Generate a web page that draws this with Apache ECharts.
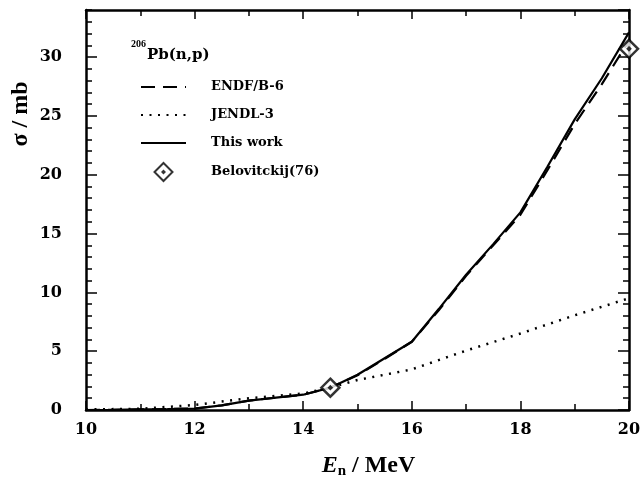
<!DOCTYPE html>
<html><head><meta charset="utf-8">
<script src="https://cdn.jsdelivr.net/npm/echarts@6/dist/echarts.min.js"></script>
<style>html,body{margin:0;padding:0;background:#fff}#c{width:644px;height:486px}</style>
</head><body><div id="c"></div>
<script>
// ---- data ----
const energies = [10, 10.5, 11, 11.5, 12, 12.5, 13, 13.5, 14, 14.5, 15, 15.5, 16, 16.5, 17, 17.5, 18, 18.5, 19, 19.5, 20];
const thisWork = [0, 0.02, 0.05, 0.08, 0.12, 0.4, 0.8, 1.05, 1.3, 1.9, 3.0, 4.4, 5.8, 8.6, 11.5, 14.1, 16.8, 20.7, 24.7, 28.2, 32.1];
const endfB6   = [0, 0.02, 0.05, 0.08, 0.12, 0.4, 0.8, 1.05, 1.3, 1.9, 2.95, 4.35, 5.8, 8.5, 11.4, 14.0, 16.6, 20.4, 24.3, 27.7, 31.4];
const jendlE   = [10, 11, 12, 13, 14, 14.5, 15, 16, 17, 18, 19, 20];
const jendl3   = [0.05, 0.1, 0.43, 1.0, 1.4, 1.9, 2.55, 3.45, 5.05, 6.5, 8.05, 9.5];
const expE     = [14.5, 20];
const expSigma = [1.9, 30.7];
const seriesNames = ['ENDF/B-6', 'JENDL-3', 'This work', 'Belovitckij(76)'];
const xRange = [10, 20];
const yRange = [0, 34];
const xLabelStep = 2;
const yLabelStep = 5;

const pairs = (xs, ys) => xs.map((x, i) => [x, ys[i]]);
const SERIF = '"DejaVu Serif", "Liberation Serif", serif';
const LSERIF = '"Liberation Serif", serif';
const diamond = 'path://M0,-10L10,0L0,10L-10,0Z M0,-1.2L1.2,0L0,1.2L-1.2,0Z';

function xAxisDef(pos, interval, tickLen, labels, line) {
  return {
    type: 'value', position: pos, min: xRange[0], max: xRange[1], interval: interval,
    axisLine: {show: line, onZero: false, lineStyle: {color: '#000', width: 2.5}},
    axisTick: {show: true, inside: true, length: tickLen, lineStyle: {color: '#000', width: 1.5}},
    axisLabel: {show: labels, color: '#000', fontFamily: SERIF, fontWeight: 'bold', fontSize: 16, margin: 12},
    splitLine: {show: false}
  };
}
function yAxisDef(pos, interval, tickLen, labels, line) {
  return {
    type: 'value', position: pos, min: yRange[0], max: yRange[1], interval: interval,
    axisLine: {show: line, onZero: false, lineStyle: {color: '#000', width: 2.5}},
    axisTick: {show: true, inside: true, length: tickLen, lineStyle: {color: '#000', width: 1.5}},
    axisLabel: {show: labels, showMaxLabel: false, color: '#000', fontFamily: SERIF, fontWeight: 'bold', fontSize: 16, margin: 24},
    splitLine: {show: false}
  };
}

const xMain = xAxisDef('bottom', xLabelStep, 9, true, true);
xMain.name = '{e|E}{n|n}{m| / MeV}';
xMain.nameLocation = 'middle';
xMain.nameGap = 42;
xMain.nameTextStyle = {
  color: '#000',
  padding: [0, 0, 0, 22],
  rich: {
    e: {fontFamily: LSERIF, fontStyle: 'italic', fontWeight: 'bold', fontSize: 24, color: '#000'},
    n: {fontFamily: LSERIF, fontWeight: 'bold', fontSize: 15, color: '#000', padding: [12, 0, 0, 0], verticalAlign: 'bottom'},
    m: {fontFamily: LSERIF, fontWeight: 'bold', fontSize: 24, color: '#000'}
  }
};

const legendData = seriesNames.map((n, i) => i < 3 ? {name: n, itemStyle: {opacity: 0}} : {name: n});

const option = {
  animation: false,
  backgroundColor: '#fff',
  grid: {left: 86, right: 15, top: 10, bottom: 76, containLabel: false},
  xAxis: [
    xMain,
    xAxisDef('bottom', 1, 6, false, false),
    xAxisDef('top', xLabelStep, 9, false, true),
    xAxisDef('top', 1, 6, false, false)
  ],
  yAxis: [
    yAxisDef('left', yLabelStep, 11, true, true),
    yAxisDef('left', 1, 6, false, false),
    yAxisDef('right', yLabelStep, 11, false, true),
    yAxisDef('right', 1, 6, false, false)
  ],
  legend: {
    orient: 'vertical', left: 140, top: 78,
    itemWidth: 45, itemHeight: 18, itemGap: 10, padding: 0,
    data: legendData,
    textStyle: {fontFamily: SERIF, fontWeight: 'bold', fontSize: 13, lineHeight: 18, color: '#000', padding: [0, 0, 0, 20]}
  },
  graphic: [
    {type: 'text', left: 131, top: 39, style: {text: '206', font: 'bold 10px "Liberation Serif", serif', fill: '#000'}},
    {type: 'text', left: 147, top: 48, style: {text: 'Pb(n,p)', font: 'bold 15px "DejaVu Serif", serif', fill: '#000'}},
    {type: 'text', x: 21, y: 114, rotation: Math.PI / 2,
     style: {text: 'σ / mb', font: 'bold 24px "Liberation Serif", serif', fill: '#000', align: 'center', verticalAlign: 'middle'}}
  ],
  series: [
    {name: seriesNames[0], type: 'line', xAxisIndex: 0, yAxisIndex: 0, symbol: 'none', data: pairs(energies, endfB6),
     lineStyle: {color: '#000', width: 2.2, type: [14, 8]}, itemStyle: {color: '#000'}, z: 3},
    {name: seriesNames[1], type: 'line', xAxisIndex: 0, yAxisIndex: 0, symbol: 'none', data: pairs(jendlE, jendl3),
     lineStyle: {color: '#000', width: 2.5, type: [2, 6.5]}, itemStyle: {color: '#000'}, z: 3},
    {name: seriesNames[2], type: 'line', xAxisIndex: 0, yAxisIndex: 0, symbol: 'none', data: pairs(energies, thisWork),
     lineStyle: {color: '#000', width: 2.2}, itemStyle: {color: '#000'}, z: 4},
    {name: seriesNames[3], type: 'scatter', xAxisIndex: 0, yAxisIndex: 0, symbol: diamond, symbolSize: 18,
     data: pairs(expE, expSigma),
     itemStyle: {color: '#fff', borderColor: '#000', borderWidth: 2.5}, z: 5}
  ]
};
const chart = echarts.init(document.getElementById('c'), null, {renderer: 'canvas'});
chart.setOption(option);
</script></body></html>
